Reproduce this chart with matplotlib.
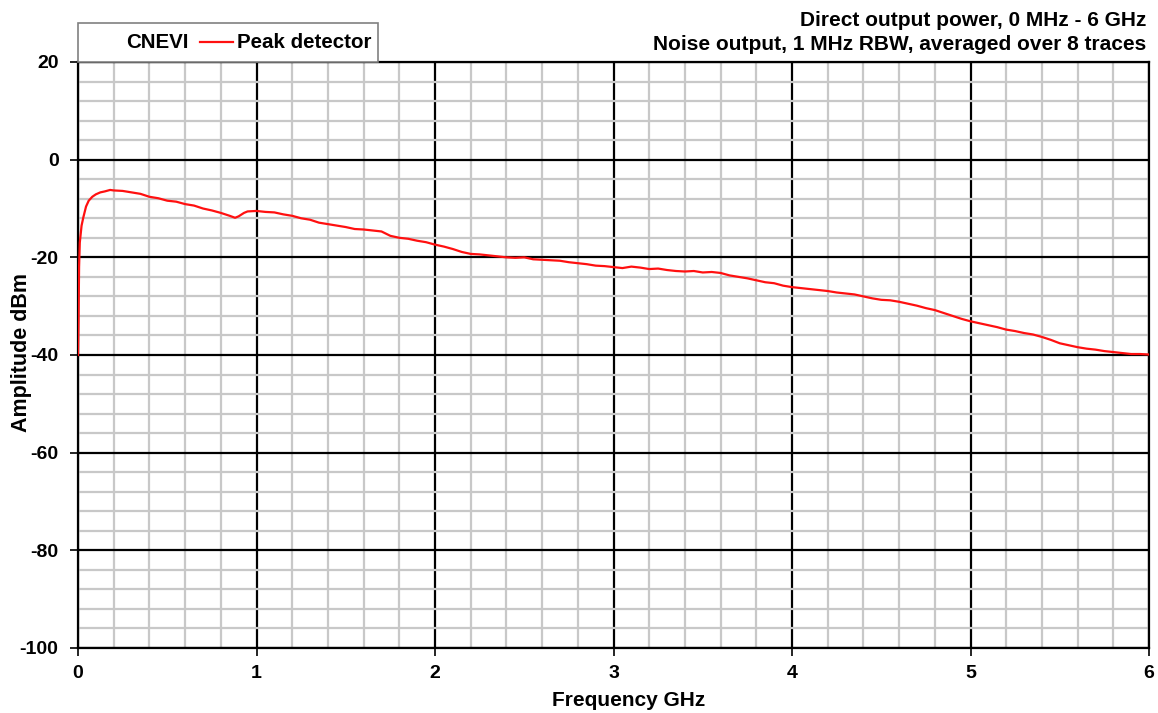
import matplotlib
matplotlib.use('Agg')
import matplotlib.pyplot as plt
from matplotlib.ticker import MultipleLocator
from matplotlib.patches import Rectangle
from matplotlib.lines import Line2D

plt.rcParams['font.family'] = ['Liberation Sans', 'DejaVu Sans']
plt.rcParams['font.weight'] = 'bold'
plt.rcParams['axes.unicode_minus'] = False

# trace, GHz / dBm
freq_ghz = [0, 0.003, 0.006, 0.01, 0.02, 0.03, 0.045, 0.06, 0.08, 0.1, 0.125, 0.15, 0.18,
            0.2, 0.25, 0.3, 0.35, 0.4, 0.45, 0.5, 0.55, 0.6, 0.65, 0.7, 0.75, 0.8, 0.85,
            0.88, 0.9, 0.93, 0.95, 1.0, 1.05, 1.1, 1.15, 1.2, 1.25, 1.3, 1.35, 1.4, 1.45,
            1.5, 1.55, 1.6, 1.65, 1.7, 1.75, 1.8, 1.85, 1.9, 1.95, 2.0, 2.05, 2.1, 2.15,
            2.2, 2.25, 2.3, 2.35, 2.4, 2.45, 2.5, 2.55, 2.6, 2.65, 2.7, 2.75, 2.8, 2.85,
            2.9, 2.95, 3.0, 3.05, 3.1, 3.15, 3.2, 3.25, 3.3, 3.35, 3.4, 3.45, 3.5, 3.55,
            3.6, 3.65, 3.7, 3.75, 3.8, 3.85, 3.9, 3.95, 4.0, 4.05, 4.1, 4.15, 4.2, 4.25,
            4.3, 4.35, 4.4, 4.45, 4.5, 4.55, 4.6, 4.65, 4.7, 4.75, 4.8, 4.85, 4.9, 4.95,
            5.0, 5.05, 5.1, 5.15, 5.2, 5.25, 5.3, 5.35, 5.4, 5.45, 5.5, 5.55, 5.6, 5.65,
            5.7, 5.75, 5.8, 5.85, 5.9, 5.95, 6.0]
peak_dbm = [-40, -33, -22, -17, -13.5, -11.8, -9.6, -8.4, -7.6, -7.1, -6.7, -6.5, -6.2,
            -6.3, -6.4, -6.7, -7.0, -7.6, -7.9, -8.4, -8.6, -9.1, -9.4, -10.0, -10.4, -10.9, -11.5,
            -11.9, -11.6, -10.9, -10.6, -10.5, -10.7, -10.8, -11.2, -11.5, -12.0, -12.3, -12.9, -13.2, -13.5,
            -13.8, -14.2, -14.3, -14.5, -14.7, -15.6, -16.0, -16.2, -16.6, -16.9, -17.4, -17.8, -18.3, -18.9,
            -19.3, -19.4, -19.6, -19.8, -20.0, -20.1, -20.0, -20.4, -20.5, -20.6, -20.7, -21.0, -21.2, -21.4,
            -21.7, -21.8, -22.0, -22.2, -21.9, -22.1, -22.4, -22.3, -22.6, -22.8, -22.9, -22.8, -23.1, -23.0,
            -23.2, -23.7, -24.0, -24.3, -24.7, -25.1, -25.3, -25.8, -26.1, -26.3, -26.5, -26.7, -26.9, -27.2,
            -27.4, -27.6, -28.0, -28.4, -28.7, -28.8, -29.1, -29.5, -29.9, -30.4, -30.8, -31.4, -32.0, -32.6,
            -33.1, -33.5, -33.9, -34.3, -34.8, -35.1, -35.5, -35.8, -36.3, -36.9, -37.6, -38.0, -38.4, -38.7,
            -38.9, -39.2, -39.4, -39.6, -39.8, -39.8, -39.9]

title_lines = ['Direct output power, 0 MHz - 6 GHz',
               'Noise output, 1 MHz RBW, averaged over 8 traces']

fig = plt.figure(figsize=(11.58, 7.13), dpi=100)
ax = fig.add_axes([78 / 1158, 65 / 713, 1071 / 1158, 586 / 713])

ax.plot(freq_ghz, peak_dbm, color='#ff1010', lw=1.6, zorder=3)

ax.set_xlim(0, 6)
ax.set_ylim(-100, 20)
ax.xaxis.set_major_locator(MultipleLocator(1))
ax.xaxis.set_minor_locator(MultipleLocator(0.2))
ax.yaxis.set_major_locator(MultipleLocator(20))
ax.yaxis.set_minor_locator(MultipleLocator(4))
ax.grid(which='minor', color='#c8c8c8', lw=1.6, zorder=0)
ax.grid(which='major', color='black', lw=1.6, zorder=1)
ax.tick_params(which='major', length=6, width=1.2, labelsize=14)
ax.tick_params(axis='x', pad=6)
ax.tick_params(axis='y', pad=8)
ax.tick_params(which='minor', length=0)
for s in ax.spines.values():
    s.set_linewidth(1.6)

ax.set_xlabel('Frequency GHz', fontsize=15, fontweight='bold', va='center')
ax.xaxis.set_label_coords(0.514, -0.089)
ax.set_ylabel('Amplitude dBm', fontsize=15.5, fontweight='bold', va='center')
ax.yaxis.set_label_coords(-0.053, 0.505)

# legend-style box above the plot
box = Rectangle((78 / 1158, 1 - 61.5 / 713), 300 / 1158, 38.5 / 713, transform=fig.transFigure,
                facecolor='white', edgecolor='#808080', lw=1.2)
fig.patches.append(box)
fig.text(126 / 1158, 1 - 42 / 713, 'CNEVI', fontsize=14.8, fontweight='bold', va='center', ha='left')
fig.add_artist(Line2D([200 / 1158, 233 / 1158], [1 - 42 / 713, 1 - 42 / 713], color='#ff1010', lw=1.6))
fig.text(237 / 1158, 1 - 42 / 713, 'Peak detector', fontsize=14.8, fontweight='bold', va='center', ha='left')

fig.text(1146 / 1158, 1 - 20 / 713, title_lines[0], fontsize=15, fontweight='bold', ha='right', va='center')
fig.text(1146 / 1158, 1 - 45 / 713, title_lines[1], fontsize=15, fontweight='bold', ha='right', va='center')

fig.savefig('out.png', dpi=100)
